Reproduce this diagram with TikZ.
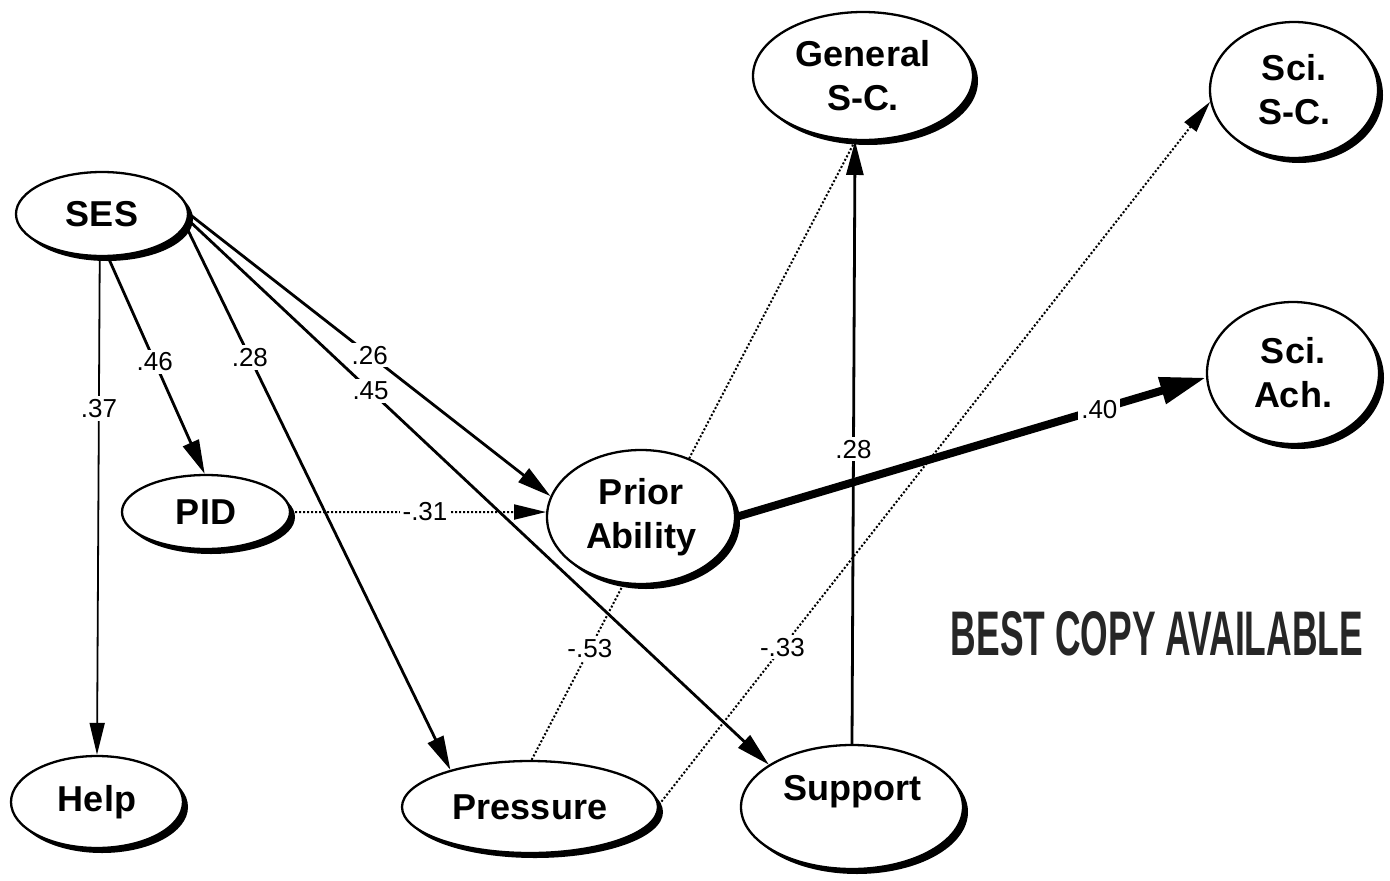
\documentclass[tikz,border=0pt]{standalone}
\usepackage{fontspec}
\usepackage{graphicx}
\setmainfont{Liberation Sans}
\usetikzlibrary{shapes.geometric,arrows.meta,shadows,backgrounds}
\newcommand\nodefnt{\fontsize{36pt}{44pt}\selectfont\bfseries}
\newcommand\labfnt{\fontsize{26pt}{30pt}\selectfont}
\begin{document}
\begin{tikzpicture}[x=1pt,y=-1pt,
  var/.style={ellipse, draw, line width=2.3pt, fill=white, inner sep=0pt,
    align=center, font=\nodefnt,
    drop shadow={shadow xshift=5pt, shadow yshift=-5pt, fill=black, opacity=1}},
  coef/.style={fill=white, inner sep=3pt, font=\labfnt},
  solidedge/.style={line width=2.8pt, -{Triangle[length=34pt,width=17pt]}},
  thinedge/.style={line width=1.8pt, -{Triangle[length=32pt,width=15pt]}},
  dotedge/.style={line width=2pt, dash pattern=on 2pt off 2pt,
    -{Triangle[length=32pt,width=15pt]}},
  thickedge/.style={line width=8pt, -{Triangle[length=46pt,width=26pt]}}
]
\useasboundingbox (0,0) rectangle (1390,881);

% nodes
\node[var, minimum width=172pt, minimum height=84pt] (ses) at (102,214) {SES};
\node[var, minimum width=168pt, minimum height=74pt] (pid) at (206,512) {PID};
\node[var, minimum width=172pt, minimum height=92pt] (help) at (97,802) {Help};
\node[var, minimum width=256pt, minimum height=92pt] (pres) at (530,807) {Pressure};
\node[var, minimum width=222pt, minimum height=124pt,
  label={[font=\nodefnt, yshift=15pt]center:Support}] (sup) at (852,807) {};
\node[var, minimum width=188pt, minimum height=134pt] (prior) at (641,517) {Prior\\Ability};
\node[var, minimum width=220pt, minimum height=128pt] (gen) at (863,76) {General\\S-C.};
\node[var, minimum width=168pt, minimum height=136pt] (scisc) at (1294,90) {Sci.\\S-C.};
\node[var, minimum width=172pt, minimum height=142pt] (sciach) at (1293,373) {Sci.\\Ach.};

\node[inner sep=0pt, text=black!85] (stamp) at (1157,634)
  {\resizebox{412pt}{44pt}{\bfseries BEST COPY AVAILABLE}};

% connectors
\begin{scope}[on background layer]
\draw[thinedge] (ses.-93) -- node[coef, pos=0.304] {.37} (help.90);
\draw[solidedge] (ses.-82) -- node[coef, pos=0.484] {.46} (pid.92);
\draw[solidedge] (ses.-8) -- node[coef, pos=0.242] {.28} (pres.155);
\draw[solidedge] (ses.-4) -- node[coef, pos=0.314] {.45} (sup.153);
\draw[solidedge] (ses.0) -- node[coef, pos=0.5] {.26} (prior.167);
\draw[dotedge] (pid.east) -- node[coef, pos=0.525] {-.31} (prior.177);
\draw[dotedge, -] (pres.88) -- node[coef, pos=0.18] {-.53} (gen.-97);
\draw[dotedge] (pres.1) -- node[coef, pos=0.224] {-.33} (scisc.188);
\draw[solidedge] (sup.north) -- node[coef, pos=0.489] {.28} (gen.-97);
\draw[thickedge] (prior.0) -- node[coef, pos=0.773] {.40} (sciach.183);
\end{scope}
\end{tikzpicture}
\end{document}
